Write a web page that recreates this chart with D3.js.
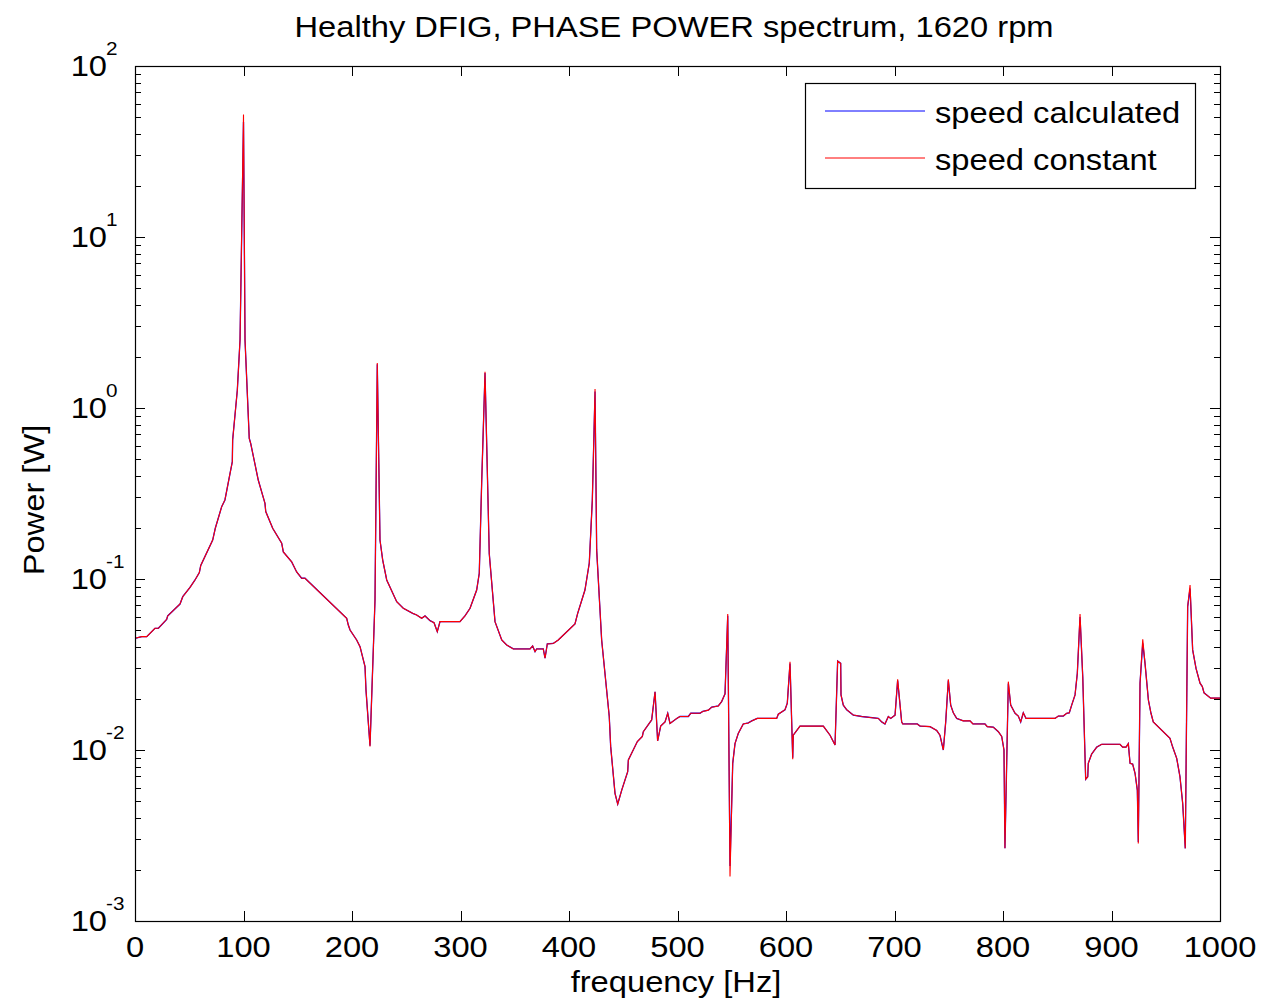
<!DOCTYPE html>
<html>
<head>
<meta charset="utf-8">
<script src="https://cdn.jsdelivr.net/npm/d3@7"></script>
<style>
  html, body { margin: 0; padding: 0; background: #fff; }
  svg { display: block; font-family: "Liberation Sans", Arial, Helvetica, sans-serif; }
</style>
</head>
<body>
<svg id="chart" width="1261" height="1007"></svg>
<script>
// ---- data ----
const title = "Healthy DFIG, PHASE POWER spectrum, 1620 rpm";
const xLabel = "frequency [Hz]";
const yLabel = "Power [W]";
const seriesNames = ["speed calculated", "speed constant"];
const xTicks = [0, 100, 200, 300, 400, 500, 600, 700, 800, 900, 1000];
const yDecades = [-3, -2, -1, 0, 1, 2];

const frequency = [0, 6.2, 10.8, 18.4, 21.5, 29.2, 30.1, 41.5, 44.0, 50.7,
  55.3, 59.3, 60.6, 71.6, 74.0, 79.9, 82.9, 87.6, 89.7, 90.0,
  94.3, 96.8, 100, 101.4, 105.3, 106.6, 113.6, 119.8, 120.5, 126.9,
  135.2, 136.7, 144.4, 149.0, 153.6, 156.7, 195.1, 196.6, 198.2, 204.3,
  207.4, 212.0, 212.9, 216.6, 221.2, 223.3, 225.8, 228.3, 232.0, 241.2,
  247.3, 255.9, 259.6, 264.2, 267.3, 271.9, 275.6, 278.6, 281.1, 299.5,
  304.1, 308.8, 314.9, 317.3, 319.5, 322.6, 326.5, 331.8, 338.0, 342.6,
  348.7, 364.1, 366.5, 368.7, 370.2, 376.3, 377.9, 380.0, 385.5, 390.1,
  405.5, 408.0, 414.7, 418.7, 421.5, 424.0, 425.5, 430.1, 437.1, 438.4,
  442.4, 444.9, 448.6, 454.1, 454.7, 463.0, 467.6, 468.5, 476.2, 479.3,
  481.7, 484.5, 488.5, 491.0, 493.1, 499.3, 502.3, 510.0, 512.2, 520.7,
  523.2, 528.4, 531.5, 537.6, 540.7, 543.8, 546.3, 548.4, 550.9, 553.0,
  556.0, 560.6, 565.3, 568.4, 573.5, 591.4, 592.9, 599.1, 601.2, 603.7,
  606.2, 606.7, 612.9, 634.4, 640.6, 645.2, 647.6, 650.4, 650.7, 652.8,
  655.9, 662.0, 669.8, 685.1, 688.2, 691.2, 694.3, 696.5, 700.5, 702.9,
  706.6, 707.6, 721.0, 723.5, 732.7, 738.9, 741.9, 745.0, 747.2, 749.6,
  751.8, 754.2, 757.3, 763.4, 769.6, 772.3, 783.4, 785.5, 791.1, 795.7,
  798.8, 800.9, 801.8, 804.9, 807.1, 811.1, 814.1, 816.3, 818.7, 821.2,
  847.9, 851.0, 855.6, 858.7, 861.1, 863.3, 866.4, 868.5, 871.0, 873.5,
  876.2, 878.1, 878.6, 881.7, 886.4, 891.0, 907.8, 910.3, 913.4, 915.5,
  917.1, 919.5, 921.7, 923.8, 924.7, 926.3, 928.8, 930.9, 934.0, 936.4,
  938.5, 953.9, 956.4, 960.1, 963.1, 965.6, 968.0, 970.2, 972.4, 974.8,
  977.9, 981.6, 983.7, 985.3, 991.4, 1000];

const speedConstant = [0.0450, 0.0460, 0.0460, 0.0515, 0.0515, 0.0581, 0.0608, 0.0714, 0.0788, 0.0894,
  0.0987, 0.109, 0.120, 0.169, 0.198, 0.265, 0.290, 0.415, 0.485, 0.650,
  1.27, 2.50, 52, 2.50, 0.665, 0.622, 0.379, 0.277, 0.248, 0.198,
  0.162, 0.144, 0.126, 0.110, 0.101, 0.101, 0.0589, 0.0538, 0.0503, 0.0440,
  0.0402, 0.0307, 0.0224, 0.0105, 0.0754, 1.83, 0.169, 0.129, 0.0987, 0.0737,
  0.0674, 0.0630, 0.0616, 0.0589, 0.0608, 0.0571, 0.0555, 0.0492, 0.0563, 0.0563,
  0.0608, 0.0674, 0.0862, 0.108, 0.363, 1.63, 0.141, 0.0563, 0.0440, 0.0411,
  0.0390, 0.0390, 0.0406, 0.0376, 0.0390, 0.0390, 0.0344, 0.0417, 0.0420, 0.0440,
  0.0546, 0.0630, 0.0862, 0.124, 0.290, 1.29, 0.148, 0.0440, 0.0157, 0.0105,
  0.00558, 0.00483, 0.00583, 0.00747, 0.00874, 0.0112, 0.0120, 0.0128, 0.0150, 0.0219,
  0.0113, 0.0138, 0.0146, 0.0164, 0.0143, 0.0153, 0.0157, 0.0157, 0.0164, 0.0164,
  0.0168, 0.0171, 0.0178, 0.0181, 0.0192, 0.0213, 0.0624, 0.00182, 0.00836, 0.0109,
  0.0125, 0.0142, 0.0144, 0.0148, 0.0153, 0.0153, 0.0162, 0.0172, 0.0188, 0.0328,
  0.00883, 0.0122, 0.0138, 0.0138, 0.0122, 0.0107, 0.0331, 0.0321, 0.0210, 0.0183,
  0.0172, 0.0160, 0.0157, 0.0153, 0.0146, 0.0142, 0.0157, 0.0153, 0.0160, 0.0259,
  0.0146, 0.0142, 0.0142, 0.0138, 0.0137, 0.0130, 0.0122, 0.0100, 0.0146, 0.0259,
  0.0183, 0.0165, 0.0153, 0.0148, 0.0148, 0.0142, 0.0142, 0.0137, 0.0136, 0.0128,
  0.0120, 0.0100, 0.00266, 0.0251, 0.0183, 0.0164, 0.0158, 0.0146, 0.0165, 0.0153,
  0.0153, 0.0158, 0.0158, 0.0164, 0.0165, 0.0183, 0.0210, 0.0281, 0.0624, 0.0268,
  0.00675, 0.00698, 0.00836, 0.00947, 0.0104, 0.0108, 0.0108, 0.0104, 0.0104, 0.0109,
  0.00836, 0.00827, 0.00731, 0.00583, 0.00284, 0.0246, 0.0444, 0.0321, 0.0196, 0.0164,
  0.0146, 0.0117, 0.0104, 0.00894, 0.00698, 0.00488, 0.00266, 0.0689, 0.0922, 0.0385,
  0.0300, 0.0246, 0.0235, 0.0216, 0.0201, 0.0201];

const speedCalculated = [0.0450, 0.0460, 0.0460, 0.0515, 0.0515, 0.0581, 0.0608, 0.0714, 0.0788, 0.0894,
  0.0987, 0.109, 0.120, 0.169, 0.198, 0.265, 0.290, 0.415, 0.485, 0.650,
  1.27, 2.50, 47, 2.50, 0.665, 0.622, 0.379, 0.277, 0.248, 0.198,
  0.162, 0.144, 0.126, 0.110, 0.101, 0.101, 0.0589, 0.0538, 0.0503, 0.0440,
  0.0402, 0.0307, 0.0224, 0.0106, 0.0754, 1.80, 0.169, 0.129, 0.0987, 0.0737,
  0.0674, 0.0630, 0.0616, 0.0589, 0.0608, 0.0571, 0.0555, 0.0492, 0.0563, 0.0563,
  0.0608, 0.0674, 0.0862, 0.108, 0.363, 1.60, 0.141, 0.0563, 0.0440, 0.0411,
  0.0390, 0.0390, 0.0406, 0.0376, 0.0390, 0.0390, 0.0344, 0.0417, 0.0420, 0.0440,
  0.0546, 0.0630, 0.0862, 0.124, 0.290, 1.25, 0.148, 0.0440, 0.0157, 0.0105,
  0.00558, 0.00483, 0.00583, 0.00747, 0.00874, 0.0112, 0.0120, 0.0128, 0.0150, 0.0219,
  0.0113, 0.0138, 0.0146, 0.0164, 0.0143, 0.0153, 0.0157, 0.0157, 0.0164, 0.0164,
  0.0168, 0.0171, 0.0178, 0.0181, 0.0192, 0.0213, 0.0610, 0.00210, 0.00836, 0.0109,
  0.0125, 0.0142, 0.0144, 0.0148, 0.0153, 0.0153, 0.0162, 0.0172, 0.0188, 0.0320,
  0.00900, 0.0122, 0.0138, 0.0138, 0.0122, 0.0107, 0.0331, 0.0321, 0.0210, 0.0183,
  0.0172, 0.0160, 0.0157, 0.0153, 0.0146, 0.0142, 0.0157, 0.0153, 0.0160, 0.0255,
  0.0146, 0.0142, 0.0142, 0.0138, 0.0137, 0.0130, 0.0122, 0.0100, 0.0146, 0.0255,
  0.0183, 0.0165, 0.0153, 0.0148, 0.0148, 0.0142, 0.0142, 0.0137, 0.0136, 0.0128,
  0.0120, 0.0100, 0.00266, 0.0245, 0.0183, 0.0164, 0.0158, 0.0146, 0.0165, 0.0153,
  0.0153, 0.0158, 0.0158, 0.0164, 0.0165, 0.0183, 0.0210, 0.0281, 0.0600, 0.0268,
  0.00675, 0.00698, 0.00836, 0.00947, 0.0104, 0.0108, 0.0108, 0.0104, 0.0104, 0.0109,
  0.00836, 0.00827, 0.00731, 0.00583, 0.00290, 0.0246, 0.0420, 0.0321, 0.0196, 0.0164,
  0.0146, 0.0117, 0.0104, 0.00894, 0.00698, 0.00488, 0.00266, 0.0689, 0.0880, 0.0385,
  0.0300, 0.0246, 0.0235, 0.0216, 0.0201, 0.0201];

const seriesColors = ["#0000ff", "#ff0000"];

// ---- layout ----
const svg = d3.select("#chart");
const mLeft = 135, mRight = 1220, mTop = 66, mBottom = 921;
const stretch = 1.09;   // reference text is horizontally wider than Arial
const fontSize = 30;

const x = d3.scaleLinear().domain([0, 1000]).range([mLeft, mRight]);
const y = d3.scaleLog().domain([1e-3, 1e2]).range([mBottom, mTop]);

function putText(g, tx, ty, str, size, anchor, rot) {
  return g.append("text")
    .attr("transform", `translate(${tx},${ty})` + (rot ? ` rotate(${rot})` : "") + ` scale(${stretch},1)`)
    .attr("text-anchor", anchor || "start")
    .attr("font-size", size)
    .attr("fill", "#000")
    .text(str);
}

// clip for data lines
svg.append("defs").append("clipPath").attr("id", "plotclip")
  .append("rect").attr("x", mLeft).attr("y", mTop).attr("width", mRight - mLeft).attr("height", mBottom - mTop);

// lines
const line = d3.line().x(d => x(d[0])).y(d => y(d[1]));
const seriesData = [d3.zip(frequency, speedCalculated), d3.zip(frequency, speedConstant)];
svg.append("g").attr("clip-path", "url(#plotclip)")
  .selectAll("path").data(seriesData).join("path")
  .attr("d", line)
  .attr("fill", "none")
  .attr("stroke", (d, i) => seriesColors[i])
  .attr("stroke-width", (d, i) => i === 0 ? 1.3 : 1.1)
  .attr("stroke-linejoin", "miter");

// ticks
const tg = svg.append("g").attr("stroke", "#000").attr("stroke-width", 1).attr("shape-rendering", "crispEdges");
xTicks.forEach(t => {
  const px = Math.round(x(t)) + 0.5;
  tg.append("line").attr("x1", px).attr("x2", px).attr("y1", mBottom).attr("y2", mBottom - 10);
  tg.append("line").attr("x1", px).attr("x2", px).attr("y1", mTop).attr("y2", mTop + 10);
});
yDecades.forEach(e => {
  const py = Math.round(y(Math.pow(10, e))) + 0.5;
  tg.append("line").attr("x1", mLeft).attr("x2", mLeft + 10).attr("y1", py).attr("y2", py);
  tg.append("line").attr("x1", mRight).attr("x2", mRight - 10).attr("y1", py).attr("y2", py);
  if (e < 2) {
    for (let m = 2; m <= 9; m++) {
      const pm = Math.round(y(m * Math.pow(10, e))) + 0.5;
      tg.append("line").attr("x1", mLeft).attr("x2", mLeft + 6).attr("y1", pm).attr("y2", pm);
      tg.append("line").attr("x1", mRight).attr("x2", mRight - 6).attr("y1", pm).attr("y2", pm);
    }
  }
});

// axes box
svg.append("rect")
  .attr("x", mLeft + 0.5).attr("y", mTop + 0.5)
  .attr("width", mRight - mLeft).attr("height", mBottom - mTop)
  .attr("fill", "none").attr("stroke", "#000").attr("stroke-width", 1.2);

// x tick labels
const lg = svg.append("g");
xTicks.forEach(t => putText(lg, x(t), 957, String(t), fontSize, "middle"));

// y tick labels: 10^e
yDecades.forEach(e => {
  const py = y(Math.pow(10, e));
  putText(lg, 107, py + 10, "10", fontSize, "end");
  putText(lg, 106, py - 11, String(e), 19, "start");
});

// title and axis labels
putText(svg, 674, 37, title, fontSize, "middle");
putText(svg, 676, 992, xLabel, fontSize, "middle");
putText(svg, 44, 500, yLabel, fontSize, "middle", -90);

// legend
const leg = svg.append("g");
leg.append("rect").attr("x", 805.5).attr("y", 83.5).attr("width", 390).attr("height", 105)
  .attr("fill", "#fff").attr("stroke", "#000").attr("stroke-width", 1.2);
seriesNames.forEach((name, i) => {
  const ly = 111 + i * 47;
  leg.append("line").attr("x1", 825).attr("x2", 925).attr("y1", ly).attr("y2", ly)
    .attr("stroke", seriesColors[i]).attr("stroke-width", 1);
  putText(leg, 935, 123 + i * 47, name, fontSize, "start");
});
</script>
</body>
</html>
